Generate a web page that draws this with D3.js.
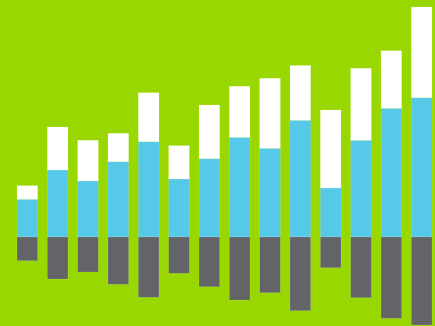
<!DOCTYPE html>
<html><head><meta charset="utf-8">
<script src="https://cdn.jsdelivr.net/npm/d3@7"></script>
<style>html,body{margin:0;padding:0;background:#99d700;}svg{display:block;}</style>
</head><body>
<svg id="c" width="435" height="326"></svg>
<script>
const categories = ["1","2","3","4","5","6","7","8","9","10","11","12","13","14"];
const blueValues = [37.7, 67, 56, 75.3, 95.3, 58, 78.3, 99.7, 88.7, 116.7, 49, 96.7, 128.7, 139.3];
const whiteValues = [13.6, 43, 40.7, 28.4, 49, 33.3, 53.7, 51, 70, 54.8, 78, 72, 57.6, 90.7];
const grayValues = [23.7, 42, 35, 47.3, 60.3, 36.3, 49.7, 63, 55.7, 73.7, 30.7, 60.7, 81.3, 88];

const W = 435, H = 326;
const svg = d3.select("#c");
svg.append("rect").attr("width", W).attr("height", H).attr("fill", "#99d700");

const x = d3.scaleBand().domain(categories).range([17, 432]).paddingInner(0.32).paddingOuter(0);
const y = d3.scaleLinear().domain([-89, 237]).range([H, 0]);

const data = categories.map((c, i) => ({c, b: blueValues[i], w: whiteValues[i], g: grayValues[i]}));
const stroke = "rgba(255,255,255,0.25)";

const g = svg.append("g");
g.selectAll(".blue").data(data).join("rect")
  .attr("x", d => x(d.c)).attr("width", x.bandwidth())
  .attr("y", d => y(d.b)).attr("height", d => y(0) - y(d.b))
  .attr("fill", "#56c8e8").attr("stroke", stroke).attr("stroke-width", 0.5);
g.selectAll(".white").data(data).join("rect")
  .attr("x", d => x(d.c)).attr("width", x.bandwidth())
  .attr("y", d => y(d.b + d.w)).attr("height", d => y(d.b) - y(d.b + d.w))
  .attr("fill", "#ffffff").attr("stroke", stroke).attr("stroke-width", 0.5);
g.selectAll(".gray").data(data).join("rect")
  .attr("x", d => x(d.c)).attr("width", x.bandwidth())
  .attr("y", y(0)).attr("height", d => y(-d.g) - y(0))
  .attr("fill", "#636468").attr("stroke", stroke).attr("stroke-width", 0.5);
</script>
</body></html>
